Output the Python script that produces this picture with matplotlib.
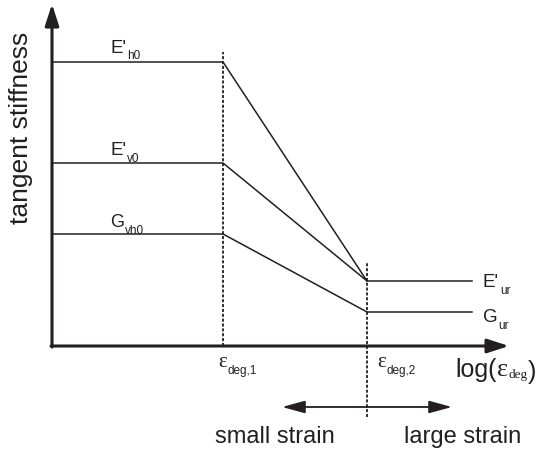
import matplotlib.pyplot as plt

plt.rcParams['font.family'] = ['Liberation Sans', 'DejaVu Sans']
plt.rcParams['lines.scale_dashes'] = False

# strain positions along the log axis (arbitrary units)
eps_deg1 = 1.71
eps_deg2 = 3.15
eps_end = 4.20

# stiffness levels
E_h0 = 2.84
E_v0 = 1.83
G_vh0 = 1.12
E_ur = 0.65
G_ur = 0.34

curve_x = [0, eps_deg1, eps_deg2, eps_end]
curve_Eh = [E_h0, E_h0, E_ur, E_ur]
curve_Ev = [E_v0, E_v0, E_ur]
curve_G = [G_vh0, G_vh0, G_ur, G_ur]

ink = '#231f20'

fig = plt.figure(figsize=(5.44, 4.55), dpi=100)
ax = fig.add_axes([52 / 544, 109 / 455, 492 / 544, 346 / 455])
ax.set_xlim(0, 4.92)
ax.set_ylim(0, 3.46)
ax.axis('off')

# stiffness degradation curves
ax.plot(curve_x, curve_Eh, color=ink, lw=1.1, clip_on=False)
ax.plot(curve_x[:3], curve_Ev, color=ink, lw=1.1, clip_on=False)
ax.plot(curve_x, curve_G, color=ink, lw=1.1, clip_on=False)

# threshold strains
ax.plot([eps_deg1, eps_deg1], [0, 2.94], color=ink, lw=1.3,
        dashes=(2.2, 1.3), clip_on=False)
ax.plot([eps_deg2, eps_deg2], [-0.71, 0.84], color=ink, lw=1.3,
        dashes=(2.2, 1.3), clip_on=False)

# axes with arrow heads
axis_arrow = dict(arrowstyle='-|>,head_length=1.3,head_width=0.42',
                  lw=2.2, color=ink, mutation_scale=10,
                  shrinkA=0, shrinkB=0)
ax.annotate('', xy=(0, 3.42), xytext=(0, -0.01), arrowprops=axis_arrow,
            annotation_clip=False)
ax.annotate('', xy=(4.57, 0), xytext=(-0.01, 0), arrowprops=axis_arrow,
            annotation_clip=False)

# small / large strain range arrow
ax.annotate('', xy=(2.30, -0.61), xytext=(4.00, -0.61),
            arrowprops=dict(arrowstyle='<|-|>,head_length=1.4,head_width=0.38',
                            lw=1.3, color=ink, mutation_scale=10,
                            shrinkA=0, shrinkB=0),
            annotation_clip=False)
ax.text(2.23, -0.97, 'small strain', fontsize=17, ha='center',
        va='baseline', color=ink, clip_on=False)
ax.text(4.11, -0.97, 'large strain', fontsize=17, ha='center',
        va='baseline', color=ink, clip_on=False)

ax.text(-0.31, 2.18, 'tangent stiffness', fontsize=19, rotation=90,
        ha='center', va='center', color=ink, clip_on=False)


def sub_label(x, y, main, sub, size, sub_size, main_font=None,
              sub_font=None, dy=-1.0):
    t = ax.text(x, y, main, fontsize=size, ha='left', va='baseline',
                color=ink, family=main_font, clip_on=False)
    s = ax.annotate(sub, xy=(1, 0), xycoords=t, xytext=(0.6, dy),
                    textcoords='offset points', fontsize=sub_size,
                    ha='left', va='baseline', color=ink, family=sub_font,
                    annotation_clip=False)
    return s


serif = ['Liberation Serif', 'DejaVu Serif']

sub_label(0.58, 2.93, "E'", 'h0', 13.5, 8.5, dy=-1.8)
sub_label(0.58, 1.91, "E'", 'v0', 13.5, 8.5, dy=-1.8)
sub_label(0.58, 1.19, 'G', 'vh0', 13, 8.5, dy=-1.8)
sub_label(4.31, 0.59, "E'", 'ur', 13.5, 8.5, dy=-2.2)
sub_label(4.31, 0.24, 'G', 'ur', 13.5, 8.5, dy=-2.2)

sub_label(1.66, -0.21, 'ε', 'deg,1', 15, 8.5, main_font=serif, dy=-1.5)
sub_label(3.25, -0.21, 'ε', 'deg,2', 15, 8.5, main_font=serif, dy=-1.5)

# log(eps_deg) axis title
t_log = ax.text(4.03, -0.31, 'log(', fontsize=18, ha='left', va='baseline',
                color=ink, clip_on=False)
t_eps = ax.annotate('ε', xy=(1, 0), xycoords=t_log, xytext=(0.5, 4.5),
                    textcoords='offset points', fontsize=19, ha='left',
                    va='baseline', color=ink, family=serif,
                    annotation_clip=False)
t_deg = ax.annotate('deg', xy=(1, 0), xycoords=t_eps, xytext=(0.3, 2.0),
                    textcoords='offset points', fontsize=9.5, ha='left',
                    va='baseline', color=ink, family=serif,
                    annotation_clip=False)
ax.annotate(')', xy=(1, 0), xycoords=t_deg, xytext=(0.3, 1.5),
            textcoords='offset points', fontsize=18, ha='left',
            va='baseline', color=ink, annotation_clip=False)

fig.savefig('out.png', dpi=100)
